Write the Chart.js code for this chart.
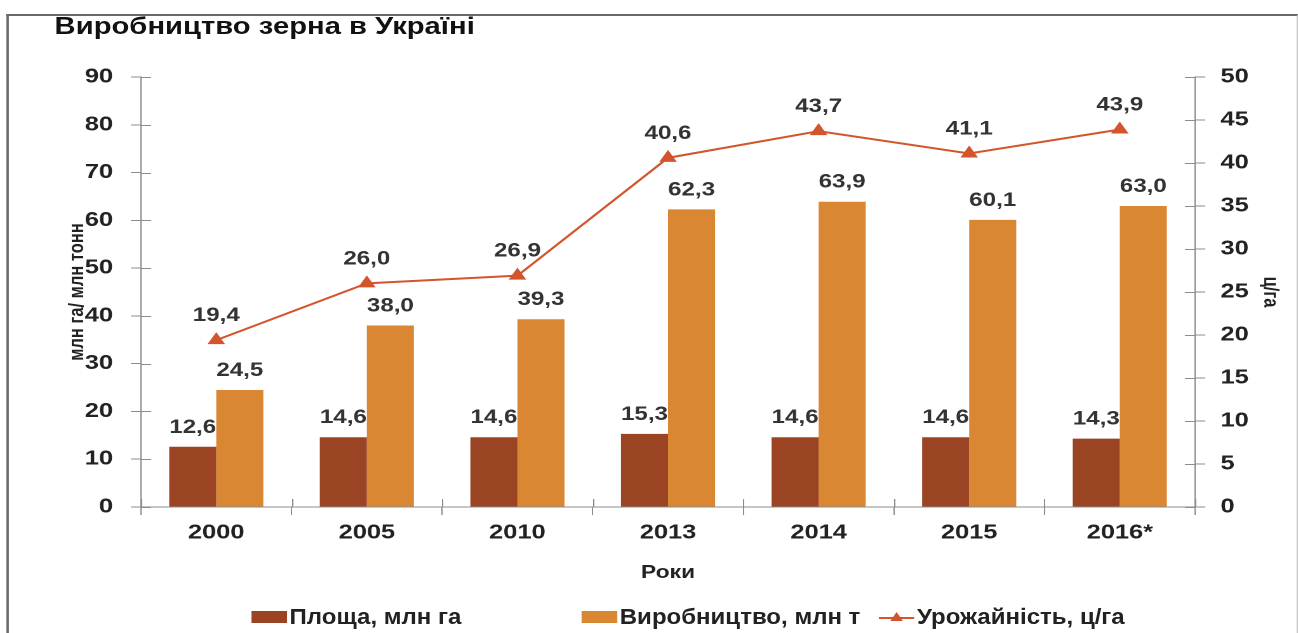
<!DOCTYPE html>
<html lang="uk">
<head>
  <meta charset="UTF-8">
  <title>Виробництво зерна в Україні</title>
  <style>
    body {
      margin: 0;
      background: #fff;
      overflow: hidden;
      font-family: 'Liberation Sans', Arial, sans-serif;
    }

    /* the original picture is stretched sideways, so the whole stage is too */
    .stage {
      position: absolute;
      left: 0;
      top: 0;
      width: 1022px;
      height: 633px;
      transform: scaleX(1.27);
      transform-origin: 0 0;
    }

    .frame {
      position: absolute;
      left: 5px;
      top: 14px;
      right: 0;
      height: 640px;
      border-top: 2px solid #6a6a6a;
      border-left: 2px solid #6a6a6a;
      border-right: 1px solid #c8c8c8;
    }

    h1 {
      position: absolute;
      left: 43px;
      top: 15px;
      margin: 0;
      font-size: 23px;
      line-height: 23px;
      font-weight: bold;
      color: #111;
    }

    #chart {
      position: absolute;
      left: 0;
      top: 0;
    }

    .legend {
      position: absolute;
      top: 605px;
      left: 0;
      font-weight: bold;
      font-size: 22px;
      line-height: 24px;
      color: #222;
    }

    .legend .item {
      position: absolute;
      white-space: nowrap;
      display: flex;
      align-items: center;
    }

    .legend .sw {
      display: inline-block;
      width: 28px;
      height: 12px;
      margin-right: 2px;
    }

    /* narrow lettering, as in the source */
    .legend .txt {
      display: inline-block;
      transform: scaleX(0.86);
      transform-origin: 0 50%;
    }
  </style>
</head>
<body>
  <div class="stage">
    <div class="frame"></div>
    <h1>Виробництво зерна в Україні</h1>
    <canvas id="chart" width="1022" height="633" style="width:1022px;height:633px"></canvas>
    <div class="legend">
      <div class="item" style="left:198px"><span class="sw" style="background:#9b4423"></span><span class="txt">Площа, млн га</span></div>
      <div class="item" style="left:458px"><span class="sw" style="background:#da8734"></span><span class="txt">Виробництво, млн т</span></div>
      <div class="item" style="left:692px">
        <svg width="28" height="14" style="margin-right:2px">
          <line x1="0" y1="8" x2="28" y2="8" stroke="#d3552b" stroke-width="2"/>
          <polygon points="14,2 19,11 9,11" fill="#d3552b"/>
        </svg><span class="txt">Урожайність, ц/га</span></div>
    </div>
  </div>

  <script src="https://cdn.jsdelivr.net/npm/chart.js"></script>
  <script>
    const years = ['2000', '2005', '2010', '2013', '2014', '2015', '2016*'];
    const area = [12.6, 14.6, 14.6, 15.3, 14.6, 14.6, 14.3];          // млн га
    const production = [24.5, 38.0, 39.3, 62.3, 63.9, 60.1, 63.0];    // млн т
    const yieldPerHa = [19.4, 26.0, 26.9, 40.6, 43.7, 41.1, 43.9];    // ц/га

    const leftMax = 90, leftStep = 10;
    const rightMax = 50, rightStep = 5;

    const brown = '#9b4423';
    const orange = '#da8734';
    const red = '#d3552b';
    const axisColor = '#8c8c8c';
    const textColor = '#222';
    const sans = "'Liberation Sans', Arial, sans-serif";

    // numbers over bars and points, with a decimal comma
    const valueLabels = {
      id: 'valueLabels',
      afterDatasetsDraw(chart) {
        const ctx = chart.ctx;
        ctx.save();
        ctx.font = 'bold 19px ' + sans;
        ctx.fillStyle = '#333';
        ctx.textAlign = 'center';
        ctx.textBaseline = 'alphabetic';
        chart.data.datasets.forEach((ds, i) => {
          const gap = ds.type === 'line' ? 19 : 14;
          chart.getDatasetMeta(i).data.forEach((el, j) => {
            ctx.fillText(ds.data[j].toFixed(1).replace('.', ','), el.x, el.y - gap);
          });
        });
        ctx.restore();
      }
    };

    // tick marks in the original cross the axis, so draw the inner half too
    const innerTicks = {
      id: 'innerTicks',
      afterDraw(chart) {
        const ctx = chart.ctx;
        const len = 8;
        ctx.save();
        ctx.strokeStyle = axisColor;
        ctx.lineWidth = 1;
        ctx.beginPath();
        const x = chart.scales.x;
        const w = (x.right - x.left) / years.length;
        for (let i = 0; i <= years.length; i++) {
          const px = Math.round(x.left + i * w) + 0.5;
          ctx.moveTo(px, x.top);
          ctx.lineTo(px, x.top - len);
        }
        const y = chart.scales.y;
        y.ticks.forEach(t => {
          const py = Math.round(y.getPixelForValue(t.value)) + 0.5;
          ctx.moveTo(y.right, py);
          ctx.lineTo(y.right + len, py);
        });
        const y1 = chart.scales.y1;
        y1.ticks.forEach(t => {
          const py = Math.round(y1.getPixelForValue(t.value)) + 0.5;
          ctx.moveTo(y1.left, py);
          ctx.lineTo(y1.left - len, py);
        });
        ctx.stroke();
        ctx.restore();
      }
    };

    new Chart(document.getElementById('chart'), {
      type: 'bar',
      data: {
        labels: years,
        datasets: [
          {
            type: 'line',
            label: 'Урожайність, ц/га',
            data: yieldPerHa,
            yAxisID: 'y1',
            borderColor: red,
            backgroundColor: red,
            borderWidth: 2,
            pointStyle: 'triangle',
            pointRadius: 6,
            pointBackgroundColor: red,
            pointBorderColor: red,
            tension: 0,
            order: 0
          },
          {
            label: 'Площа, млн га',
            data: area,
            yAxisID: 'y',
            backgroundColor: brown,
            barPercentage: 1,
            categoryPercentage: 0.625,
            order: 1
          },
          {
            label: 'Виробництво, млн т',
            data: production,
            yAxisID: 'y',
            backgroundColor: orange,
            barPercentage: 1,
            categoryPercentage: 0.625,
            order: 1
          }
        ]
      },
      options: {
        responsive: false,
        animation: false,
        devicePixelRatio: 2,
        layout: { padding: { top: 77, bottom: 43, left: 0, right: 0 } },
        plugins: {
          legend: { display: false },
          tooltip: { enabled: false }
        },
        scales: {
          x: {
            offset: true,
            grid: { offset: true, drawOnChartArea: false, tickLength: 8, color: axisColor },
            border: { color: axisColor },
            ticks: { color: textColor, font: { family: sans, size: 20, weight: 'bold' }, padding: 6 },
            title: {
              display: true,
              text: 'Роки',
              color: textColor,
              font: { family: sans, size: 18, weight: 'bold' },
              padding: { top: 0, bottom: 6 }
            },
            afterFit(s) { s.height = 83; }
          },
          y: {
            position: 'left',
            min: 0,
            max: leftMax,
            grid: { drawOnChartArea: false, tickLength: 8, color: axisColor },
            border: { color: axisColor },
            ticks: { stepSize: leftStep, color: textColor, font: { family: sans, size: 20, weight: 'bold' }, padding: 14 },
            title: {
              display: true,
              text: 'млн га/ млн тонн',
              color: textColor,
              font: { family: sans, size: 16.5, weight: 'bold' },
              padding: { top: 51 }
            },
            afterFit(s) { s.width = 111; }
          },
          y1: {
            position: 'right',
            min: 0,
            max: rightMax,
            grid: { drawOnChartArea: false, tickLength: 8, color: axisColor },
            border: { color: axisColor },
            ticks: { stepSize: rightStep, color: textColor, font: { family: sans, size: 20, weight: 'bold' }, padding: 12 },
            title: {
              display: true,
              text: 'ц/га',
              color: textColor,
              font: { family: sans, size: 16.5, weight: 'bold' },
              padding: { top: 12 }
            },
            afterFit(s) { s.width = 81; }
          }
        }
      },
      plugins: [valueLabels, innerTicks]
    });
  </script>
</body>
</html>
